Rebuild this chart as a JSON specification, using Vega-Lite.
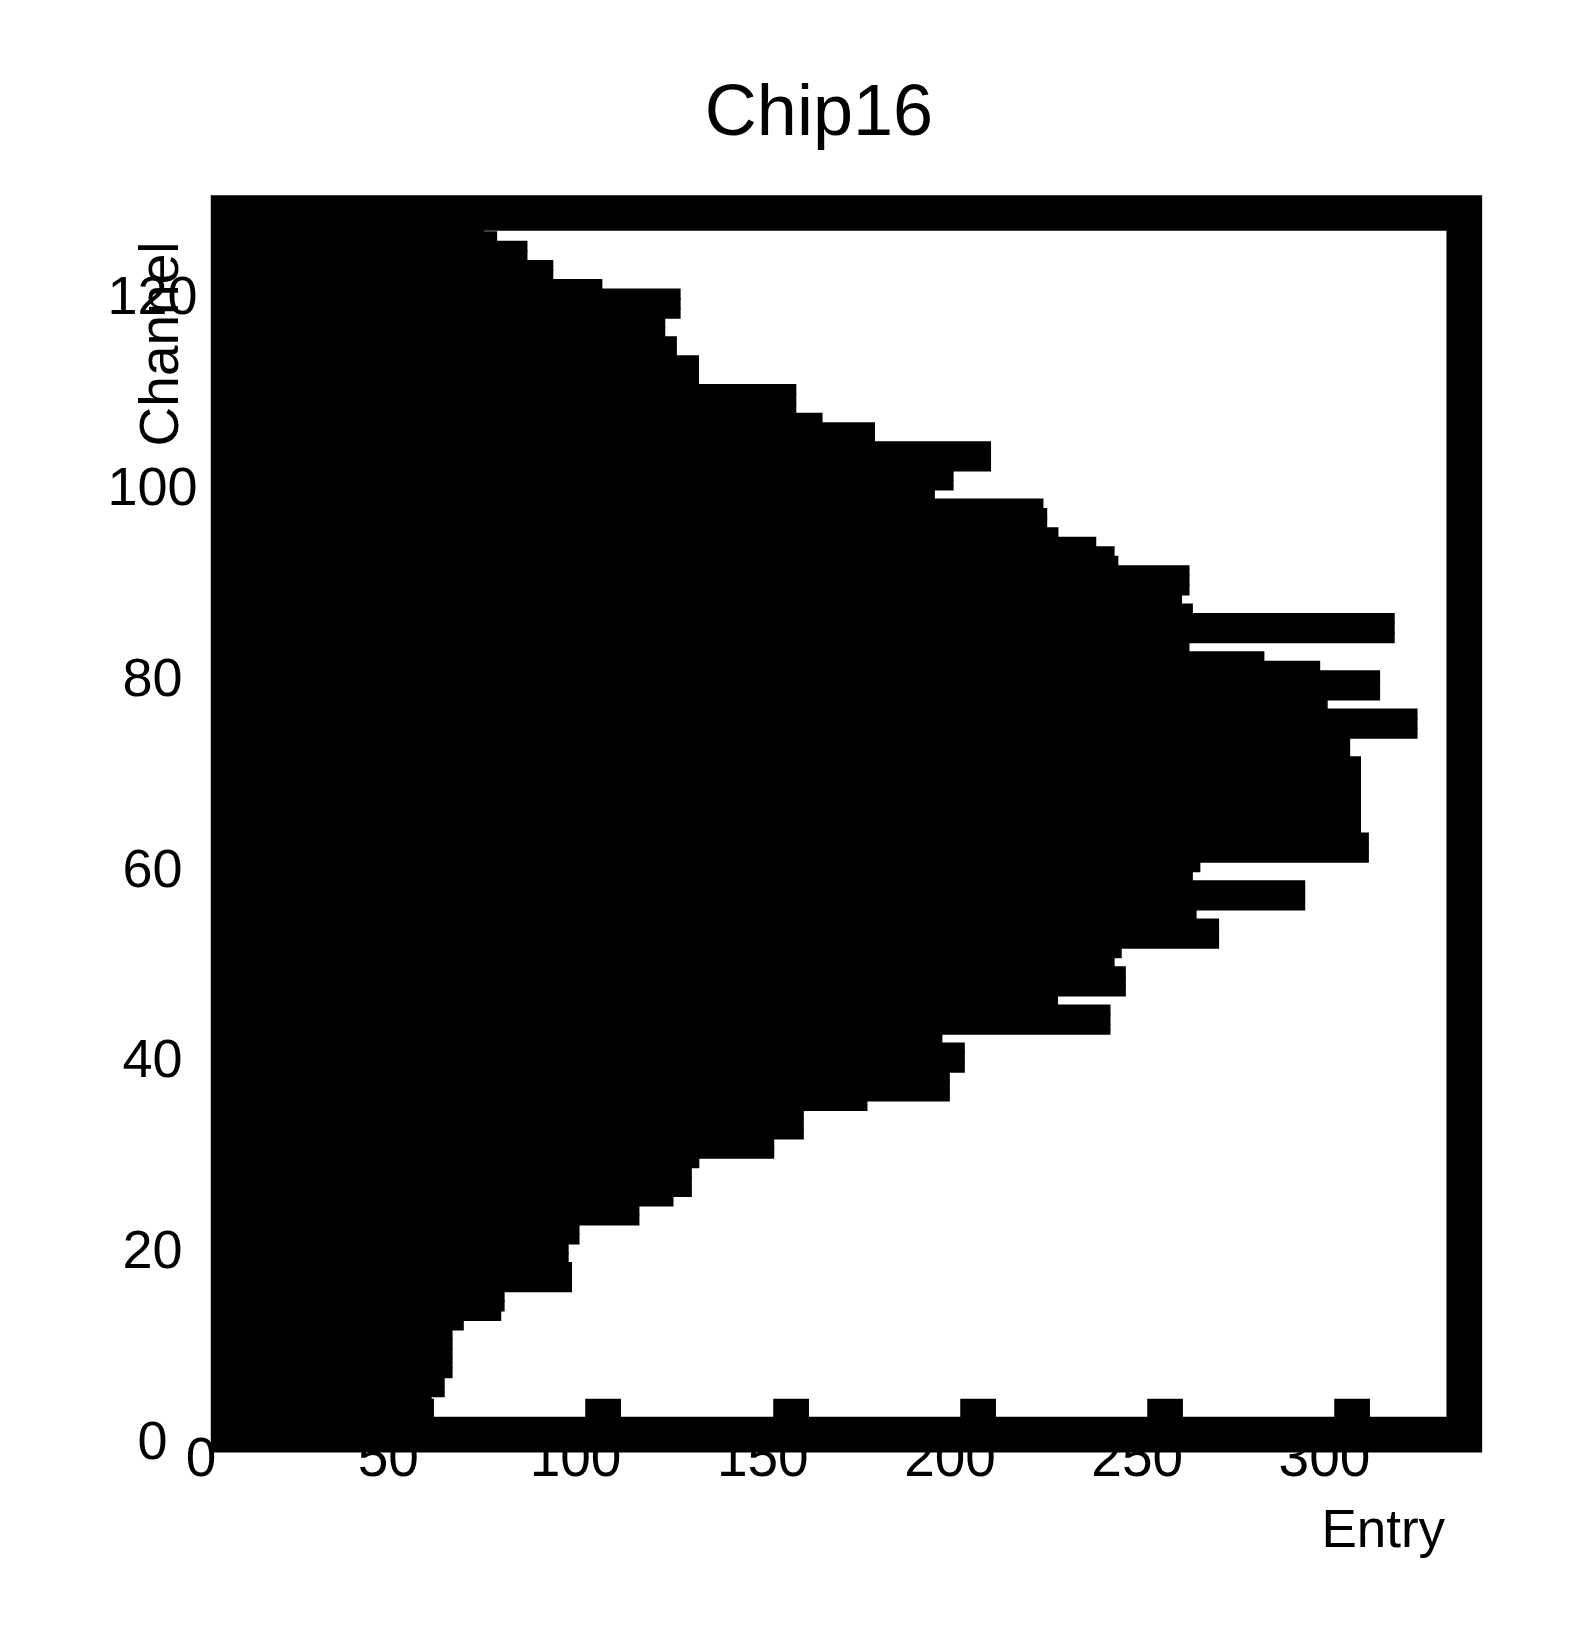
{
  "$schema": "https://vega.github.io/schema/vega-lite/v6.json",
  "autosize": {"type": "none"},
  "padding": {"left": 228.6, "top": 213, "right": 123.7, "bottom": 201.3},
  "width": 1235.7,
  "height": 1221.7,
  "background": "white",
  "config": {
    "view": {"stroke": "black", "strokeWidth": 35.7, "fill": "white"},
    "font": "Liberation Sans"
  },
  "title": {
    "text": "Chip16",
    "font": "Liberation Sans",
    "fontSize": 72,
    "fontWeight": "normal",
    "color": "black",
    "frame": "group",
    "anchor": "middle",
    "dx": -27.5,
    "baseline": "alphabetic",
    "offset": 5.7
  },
  "data": {
    "values": [
      {"lo": 0, "hi": 1, "entry": 45}, {"lo": 1, "hi": 2, "entry": 48}, {"lo": 2, "hi": 3, "entry": 52}, {"lo": 3, "hi": 4, "entry": 54},
      {"lo": 4, "hi": 5, "entry": 57.5}, {"lo": 5, "hi": 6, "entry": 57.5}, {"lo": 6, "hi": 7, "entry": 59.6}, {"lo": 7, "hi": 8, "entry": 59.6},
      {"lo": 8, "hi": 9, "entry": 59.6}, {"lo": 9, "hi": 10, "entry": 59.6}, {"lo": 10, "hi": 11, "entry": 59.6}, {"lo": 11, "hi": 12, "entry": 62.6},
      {"lo": 12, "hi": 13, "entry": 72.6}, {"lo": 13, "hi": 14, "entry": 73.5}, {"lo": 14, "hi": 15, "entry": 73.5}, {"lo": 15, "hi": 16, "entry": 91.5},
      {"lo": 16, "hi": 17, "entry": 91.5}, {"lo": 17, "hi": 18, "entry": 91.5}, {"lo": 18, "hi": 19, "entry": 90.6}, {"lo": 19, "hi": 20, "entry": 90.6},
      {"lo": 20, "hi": 21, "entry": 93.5}, {"lo": 21, "hi": 22, "entry": 93.5}, {"lo": 22, "hi": 23, "entry": 109.5}, {"lo": 23, "hi": 24, "entry": 109.5},
      {"lo": 24, "hi": 25, "entry": 118.6}, {"lo": 25, "hi": 26, "entry": 123.5}, {"lo": 26, "hi": 27, "entry": 123.5}, {"lo": 27, "hi": 28, "entry": 123.5},
      {"lo": 28, "hi": 29, "entry": 125.5}, {"lo": 29, "hi": 30, "entry": 145.5}, {"lo": 30, "hi": 31, "entry": 145.5}, {"lo": 31, "hi": 32, "entry": 153.4},
      {"lo": 32, "hi": 33, "entry": 153.4}, {"lo": 33, "hi": 34, "entry": 153.4}, {"lo": 34, "hi": 35, "entry": 170.4}, {"lo": 35, "hi": 36, "entry": 192.4},
      {"lo": 36, "hi": 37, "entry": 192.4}, {"lo": 37, "hi": 38, "entry": 192.4}, {"lo": 38, "hi": 39, "entry": 196.4}, {"lo": 39, "hi": 40, "entry": 196.4},
      {"lo": 40, "hi": 41, "entry": 196.4}, {"lo": 41, "hi": 42, "entry": 190.4}, {"lo": 42, "hi": 43, "entry": 235.3}, {"lo": 43, "hi": 44, "entry": 235.3},
      {"lo": 44, "hi": 45, "entry": 235.3}, {"lo": 45, "hi": 46, "entry": 221.3}, {"lo": 46, "hi": 47, "entry": 239.4}, {"lo": 47, "hi": 48, "entry": 239.4},
      {"lo": 48, "hi": 49, "entry": 239.4}, {"lo": 49, "hi": 50, "entry": 236.4}, {"lo": 50, "hi": 51, "entry": 238.3}, {"lo": 51, "hi": 52, "entry": 264.3},
      {"lo": 52, "hi": 53, "entry": 264.3}, {"lo": 53, "hi": 54, "entry": 264.3}, {"lo": 54, "hi": 55, "entry": 258.3}, {"lo": 55, "hi": 56, "entry": 287.3},
      {"lo": 56, "hi": 57, "entry": 287.3}, {"lo": 57, "hi": 58, "entry": 287.3}, {"lo": 58, "hi": 59, "entry": 257.3}, {"lo": 59, "hi": 60, "entry": 259.3},
      {"lo": 60, "hi": 61, "entry": 304.3}, {"lo": 61, "hi": 62, "entry": 304.3}, {"lo": 62, "hi": 63, "entry": 304.3}, {"lo": 63, "hi": 64, "entry": 302.2},
      {"lo": 64, "hi": 65, "entry": 302.2}, {"lo": 65, "hi": 66, "entry": 302.2}, {"lo": 66, "hi": 67, "entry": 302.2}, {"lo": 67, "hi": 68, "entry": 302.2},
      {"lo": 68, "hi": 69, "entry": 302.2}, {"lo": 69, "hi": 70, "entry": 302.2}, {"lo": 70, "hi": 71, "entry": 302.2}, {"lo": 71, "hi": 72, "entry": 299.3},
      {"lo": 72, "hi": 73, "entry": 299.3}, {"lo": 73, "hi": 74, "entry": 317.3}, {"lo": 74, "hi": 75, "entry": 317.3}, {"lo": 75, "hi": 76, "entry": 317.3},
      {"lo": 76, "hi": 77, "entry": 293.3}, {"lo": 77, "hi": 78, "entry": 307.3}, {"lo": 78, "hi": 79, "entry": 307.3}, {"lo": 79, "hi": 80, "entry": 307.3},
      {"lo": 80, "hi": 81, "entry": 291.3}, {"lo": 81, "hi": 82, "entry": 276.4}, {"lo": 82, "hi": 83, "entry": 256.4}, {"lo": 83, "hi": 84, "entry": 311.2},
      {"lo": 84, "hi": 85, "entry": 311.2}, {"lo": 85, "hi": 86, "entry": 311.2}, {"lo": 86, "hi": 87, "entry": 257.3}, {"lo": 87, "hi": 88, "entry": 254.4},
      {"lo": 88, "hi": 89, "entry": 256.4}, {"lo": 89, "hi": 90, "entry": 256.4}, {"lo": 90, "hi": 91, "entry": 256.4}, {"lo": 91, "hi": 92, "entry": 237.4},
      {"lo": 92, "hi": 93, "entry": 236.4}, {"lo": 93, "hi": 94, "entry": 231.5}, {"lo": 94, "hi": 95, "entry": 221.4}, {"lo": 95, "hi": 96, "entry": 218.4},
      {"lo": 96, "hi": 97, "entry": 218.4}, {"lo": 97, "hi": 98, "entry": 217.4}, {"lo": 98, "hi": 99, "entry": 188.4}, {"lo": 99, "hi": 100, "entry": 193.4},
      {"lo": 100, "hi": 101, "entry": 193.4}, {"lo": 101, "hi": 102, "entry": 203.4}, {"lo": 102, "hi": 103, "entry": 203.4}, {"lo": 103, "hi": 104, "entry": 203.4},
      {"lo": 104, "hi": 105, "entry": 172.4}, {"lo": 105, "hi": 106, "entry": 172.4}, {"lo": 106, "hi": 107, "entry": 158.4}, {"lo": 107, "hi": 108, "entry": 151.4},
      {"lo": 108, "hi": 109, "entry": 151.4}, {"lo": 109, "hi": 110, "entry": 151.4}, {"lo": 110, "hi": 111, "entry": 125.4}, {"lo": 111, "hi": 112, "entry": 125.4},
      {"lo": 112, "hi": 113, "entry": 125.4}, {"lo": 113, "hi": 114, "entry": 119.5}, {"lo": 114, "hi": 115, "entry": 119.5}, {"lo": 115, "hi": 116, "entry": 116.4},
      {"lo": 116, "hi": 117, "entry": 116.4}, {"lo": 117, "hi": 118, "entry": 120.5}, {"lo": 118, "hi": 119, "entry": 120.5}, {"lo": 119, "hi": 120, "entry": 120.5},
      {"lo": 120, "hi": 121, "entry": 99.6}, {"lo": 121, "hi": 122, "entry": 86.5}, {"lo": 122, "hi": 123, "entry": 86.5}, {"lo": 123, "hi": 124, "entry": 79.6},
      {"lo": 124, "hi": 125, "entry": 79.6}, {"lo": 125, "hi": 126, "entry": 71.5}, {"lo": 126, "hi": 127, "entry": 68}, {"lo": 127, "hi": 128, "entry": 62}
    ]
  },
  "mark": {"type": "rect", "color": "black", "stroke": "black", "strokeWidth": 1.6},
  "encoding": {
    "x": {
      "field": "entry",
      "type": "quantitative",
      "scale": {"domain": [0, 330], "nice": false, "zero": true},
      "axis": {
        "title": "Entry",
        "titleFont": "Liberation Sans",
        "titleFontSize": 53,
        "titleFontWeight": "normal",
        "titleColor": "black",
        "titleAlign": "right",
        "titleBaseline": "alphabetic",
        "titleAnchor": null,
        "titleX": 1216,
        "titleY": 111.3,
        "values": [0, 50, 100, 150, 200, 250, 300],
        "domain": false,
        "grid": false,
        "ticks": true,
        "tickSize": -36.4,
        "tickWidth": 35.7,
        "tickColor": "black",
        "labelFont": "Liberation Sans",
        "labelFontSize": 55,
        "labelColor": "black",
        "labelFlush": false,
        "labelOverlap": false,
        "labelBaseline": "alphabetic",
        "labelPadding": 77,
        "labelOffset": -28
      }
    },
    "x2": {"datum": 0},
    "y": {
      "field": "lo",
      "type": "quantitative",
      "scale": {"domain": [0, 128], "nice": false, "zero": true},
      "axis": {
        "title": "Channel",
        "titleFont": "Liberation Sans",
        "titleFontSize": 55,
        "titleFontWeight": "normal",
        "titleColor": "black",
        "titleAngle": 270,
        "titleAlign": "right",
        "titleBaseline": "alphabetic",
        "titleAnchor": null,
        "titleX": -51,
        "titleY": 28,
        "values": [0, 20, 40, 60, 80, 100, 120],
        "domain": false,
        "grid": false,
        "ticks": false,
        "labelFont": "Liberation Sans",
        "labelFontSize": 54,
        "labelColor": "black",
        "labelFlush": false,
        "labelOverlap": false,
        "labelAlign": "center",
        "labelBaseline": "middle",
        "labelPadding": 76.6,
        "labelOffset": 8
      }
    },
    "y2": {"field": "hi"}
  }
}
